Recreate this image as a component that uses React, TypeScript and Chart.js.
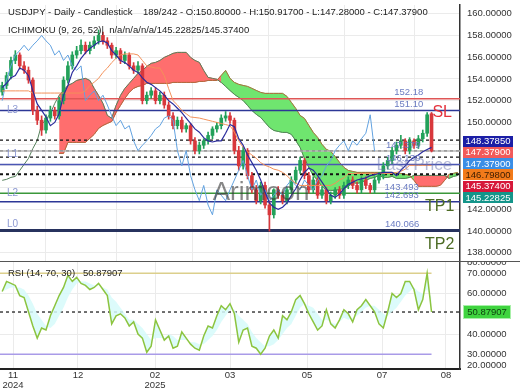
import React, { useEffect, useRef } from 'react';
import { Chart, registerables } from 'chart.js';
Chart.register(...registerables);

const FONT = "'Liberation Sans', Arial, sans-serif";
Chart.defaults.font.family = FONT;

const TITLE_LEFT = 'USDJPY - Daily - Candlestick';
const TITLE_RIGHT = '189/242 - O:150.80000 - H:150.91700 - L:147.28000 - C:147.37900';
const ICHI_TITLE = 'ICHIMOKU (9, 26, 52)|  n/a/n/a/n/a/145.22825/145.37400';
const RSI_TITLE = 'RSI (14, 70, 30)   50.87907';
const WATERMARK = 'Arimoon';

const opens = [
  152.8, 153.4, 154.3, 155.7, 156.2, 155.2, 154.8, 153.9, 151.1, 150.2,
  149.3, 150.4, 151.1, 150.6, 152.0, 153.9, 155.2, 156.2, 156.6, 157.1,
  156.6, 157.1, 157.5, 158.0, 157.5, 157.1, 156.2, 156.6, 155.7, 156.2,
  155.2, 154.8, 155.2, 152.0, 152.5, 152.9, 152.0, 152.5, 151.6, 150.6,
  149.7, 150.2, 149.4, 149.7, 148.3, 147.4, 147.9, 148.3, 148.8, 149.4,
  149.7, 150.4, 150.6, 150.2, 147.4, 146.0, 147.4, 145.1, 143.8, 142.8,
  144.2, 142.4, 141.5, 143.8, 143.3, 142.8, 143.8, 144.7, 145.6, 146.5,
  145.1, 143.8, 144.7, 143.3, 143.8, 142.8, 143.3, 143.8, 143.3, 144.2,
  144.7, 144.2, 143.8, 144.7, 144.2, 143.8, 144.7, 145.1, 146.0, 146.5,
  147.4, 147.9, 148.3, 147.4, 148.3, 147.9, 148.5, 149.0, 150.8
];
const highs = [
  153.7, 154.6, 156.0, 156.6, 156.4, 155.6, 155.1, 154.1, 151.5, 150.6,
  150.7, 151.5, 151.4, 152.3, 154.2, 155.6, 156.5, 157.0, 157.6, 157.4,
  157.4, 157.9, 158.5, 158.3, 157.8, 157.3, 156.9, 156.8, 156.5, 156.4,
  155.5, 155.6, 155.4, 152.8, 153.2, 153.2, 152.8, 152.8, 151.9, 150.9,
  150.5, 150.5, 149.9, 149.9, 148.6, 148.2, 148.5, 149.1, 149.6, 150.0,
  150.7, 151.0, 150.9, 150.4, 147.8, 147.7, 147.6, 145.4, 144.2, 144.5,
  144.5, 142.8, 143.9, 144.1, 143.6, 144.0, 145.0, 145.9, 146.8, 146.7,
  145.4, 145.0, 144.9, 144.1, 144.0, 143.6, 144.0, 144.1, 144.5, 145.0,
  145.0, 144.5, 145.0, 145.0, 144.4, 145.0, 145.4, 146.3, 146.8, 147.7,
  148.2, 148.8, 148.5, 148.6, 148.5, 148.8, 149.3, 150.9, 150.917
];
const lows = [
  152.5, 153.1, 154.0, 155.4, 154.9, 154.5, 153.6, 150.7, 149.8, 148.8,
  149.0, 150.1, 150.3, 150.3, 151.7, 153.6, 154.9, 155.9, 156.3, 156.3,
  156.3, 156.8, 157.2, 157.2, 156.8, 155.9, 155.9, 155.4, 155.4, 154.9,
  154.5, 154.5, 151.7, 151.7, 152.2, 151.7, 151.7, 151.3, 150.3, 149.4,
  149.4, 149.1, 149.1, 148.0, 147.1, 147.1, 147.6, 148.0, 148.5, 149.1,
  149.4, 150.1, 149.9, 147.1, 145.6, 145.7, 144.8, 143.5, 142.5, 142.5,
  142.1, 140.0, 141.2, 143.0, 142.5, 142.5, 143.5, 144.4, 145.3, 144.8,
  143.5, 143.5, 143.0, 143.0, 142.5, 142.5, 143.0, 143.0, 143.0, 143.9,
  143.9, 143.5, 143.5, 143.9, 143.5, 143.5, 144.4, 144.8, 145.7, 146.2,
  147.1, 147.6, 147.1, 147.1, 147.6, 147.6, 148.2, 148.7, 147.28
];
const closes = [
  153.4, 154.3, 155.7, 156.2, 155.2, 154.8, 153.9, 151.1, 150.2, 149.3,
  150.4, 151.1, 150.6, 152.0, 153.9, 155.2, 156.2, 156.6, 157.1, 156.6,
  157.1, 157.5, 158.0, 157.5, 157.1, 156.2, 156.6, 155.7, 156.2, 155.2,
  154.8, 155.2, 152.0, 152.5, 152.9, 152.0, 152.5, 151.6, 150.6, 149.7,
  150.2, 149.4, 149.7, 148.3, 147.4, 147.9, 148.3, 148.8, 149.4, 149.7,
  150.4, 150.6, 150.2, 147.4, 146.0, 147.4, 145.1, 143.8, 142.8, 144.2,
  142.4, 141.5, 143.8, 143.3, 142.8, 143.8, 144.7, 145.6, 146.5, 145.1,
  143.8, 144.7, 143.3, 143.8, 142.8, 143.3, 143.8, 143.3, 144.2, 144.7,
  144.2, 143.8, 144.7, 144.2, 143.8, 144.7, 145.1, 146.0, 146.5, 147.4,
  147.9, 148.3, 147.4, 148.3, 147.9, 148.5, 149.0, 150.7, 147.379
];
const tenkan = [
  153.2, 153.6, 154.1, 154.3, 155.0, 154.8, 154.3, 152.9, 151.7, 151.1,
  150.5, 149.7, 150.0, 150.8, 152.5, 153.4, 154.6, 155.2, 155.9, 156.4,
  156.8, 157.1, 157.4, 157.5, 157.3, 156.6, 156.2, 155.7, 155.5, 155.2,
  154.8, 154.6, 154.1, 153.7, 153.5, 153.2, 152.9, 152.5, 152.0, 151.7,
  151.3, 150.9, 150.4, 149.9, 149.4, 149.1, 148.6, 148.3, 148.2, 148.3,
  148.3, 149.0, 149.8, 149.6, 148.5, 147.9, 147.0, 146.3, 145.6, 144.7,
  143.6, 142.6, 142.2, 142.0, 142.2, 142.6, 143.3, 143.9, 144.7, 145.4,
  145.8, 145.6, 145.1, 144.5, 143.9, 143.3, 143.1, 143.4, 143.9, 144.3,
  144.5, 144.7, 144.8, 144.9, 145.1, 145.2, 145.3, 145.4, 145.4, 145.4,
  145.1, 145.6, 146.0, 146.5, 146.8, 147.0, 147.3, 147.5, 147.7
];
const kijun = [
  152.9, 152.9, 152.9, 152.9, 152.9, 152.9, 152.9, 152.7, 152.7, 152.7,
  152.7, 152.7, 152.7, 152.7, 152.7, 152.7, 152.7, 152.7, 152.7, 152.9,
  153.4, 153.7, 154.05, 154.6, 155.0, 155.5, 155.9, 156.2, 156.3, 156.3,
  156.3, 156.2, 155.7, 155.2, 155.1, 155.0, 155.0, 154.3, 153.1, 152.0,
  151.6, 151.1, 150.8, 150.5, 150.45, 150.4, 150.3, 150.2, 150.1, 150.0,
  149.9, 149.8, 149.7, 149.1, 148.3, 147.7, 147.3, 147.0, 146.7, 146.3,
  146.05, 145.9, 145.7, 145.6, 145.4, 145.1, 144.7, 144.4, 144.2, 144.2,
  144.2, 144.2, 144.2, 144.2, 144.2, 144.2, 144.4, 144.7, 144.9, 145.3,
  145.3, 145.3, 145.3, 145.3, 145.3, 145.3, 145.3, 145.3, 145.3, 145.3,
  145.4, 145.5, 145.7, 146.05, 146.05, 146.05, 146.05, 146.05, 146.05
];
// senkou span B line before the cloud fill starts (bars 0..12)
const earlySpanB = [144.67, 144.76, 144.94, 145.03, 145.58, 146.14, 146.69, 147.6, 148.34, 149.8, 150.27, 150.83, 151.75];
const CLOUD_START = 13;
const spanA = [
  147.15, 147.15, 148.16, 148.16, 148.16, 148.16, 148.16, 148.53, 148.90, 149.45,
  149.72, 149.91, 150.09, 150.92, 151.56, 152.21, 152.76, 153.13, 153.31, 153.40,
  153.59, 153.59, 153.59, 153.59, 153.59, 153.59, 153.68, 153.68, 153.68, 153.68,
  153.68, 153.68, 153.77, 153.77, 153.86, 153.86, 153.86, 154.32, 154.78, 154.05,
  153.68, 153.50, 153.40, 153.31, 153.13, 152.94, 152.76, 152.67, 152.67, 152.67,
  152.67, 152.67, 152.39, 151.84, 151.29, 150.64, 150.37, 149.72, 149.08, 148.62,
  147.98, 147.52, 147.33, 146.87, 146.32, 145.86, 145.58, 145.49, 145.40, 145.40,
  145.40, 145.40, 145.40, 145.40, 145.40, 145.40, 145.40, 145.31, 145.31, 145.22,
  145.12, 144.67, 144.12, 144.12, 144.12, 144.12, 144.12, 144.21, 144.67, 145.22,
  145.31, 145.40
];
const spanB = [
  152.48, 152.94, 153.40, 153.59, 153.86, 153.96, 154.05, 153.86, 153.13, 152.48,
  151.75, 150.64, 150.37, 151.56, 152.48, 153.13, 153.59, 154.05, 154.51, 154.78,
  155.15, 155.43, 155.52, 155.70, 155.98, 156.16, 156.35, 156.44, 156.44, 156.44,
  155.98, 155.70, 155.52, 154.78, 154.14, 154.05, 153.96, 153.68, 153.31, 152.94,
  152.58, 152.30, 152.02, 151.56, 151.10, 150.74, 150.46, 150.00, 149.54, 149.26,
  149.17, 149.08, 149.08, 148.90, 148.34, 147.70, 146.69, 145.86, 145.12, 144.67,
  144.12, 143.75, 143.75, 143.75, 143.84, 143.93, 144.12, 144.48, 144.39, 144.48,
  144.67, 144.85, 144.94, 145.12, 144.94, 144.94, 145.03, 144.85, 144.85, 144.85,
  144.94, 145.12, 145.12, 145.12, 145.12, 145.12, 145.12, 145.12, 145.12, 144.85,
  145.03, 145.12
];
// bar ranges where the cloud is bearish (red) or bullish (green)
const cloudParts = [
  { from: 13, to: 26, color: '#ff6e6e' },
  { from: 25, to: 50, color: '#ff6e6e' },
  { from: 49, to: 94, color: '#6fe56f' },
  { from: 93, to: 102, color: '#ff6e6e' },
  { from: 101, to: 104, color: '#6fe56f' },
];
const CHIKOU_SHIFT = 13;

const rsiValues = [
  61, 66, 65, 64, 59, 58, 51, 44, 38, 43,
  42, 49, 54, 59, 63, 69, 66, 68, 65, 64,
  62, 63, 65, 62, 59, 45, 49, 50, 48, 44,
  46, 40, 38, 31, 34, 47, 42, 37, 39, 33,
  34, 41, 38, 35, 33, 32, 39, 44, 43, 49,
  54, 52, 55, 50, 36, 42, 43, 34, 33, 30,
  33, 39, 42, 38, 49, 47, 51, 57, 59, 55,
  50, 46, 42, 44, 52, 45, 43, 47, 52, 50,
  46, 52, 54, 57, 54, 51, 45, 43, 51, 60,
  58, 60, 66, 66, 62, 52, 57, 70, 50.87907
];
const rsiSignal = [
  61, 62, 63, 63, 63, 62, 59, 55, 50, 47,
  44, 43, 45, 49, 53, 58, 62, 65, 66, 66,
  65, 64, 64, 63, 62, 58, 56, 53, 50, 47,
  47, 45, 43, 40, 37, 38, 38, 38, 40, 39,
  37, 37, 37, 36, 36, 35, 35, 37, 39, 42,
  46, 49, 52, 52, 49, 47, 45, 41, 38, 36,
  34, 34, 35, 37, 40, 43, 45, 49, 53, 55,
  54, 53, 50, 47, 47, 46, 45, 46, 48, 47,
  48, 49, 51, 53, 54, 54, 52, 50, 49, 51,
  53, 56, 59, 61, 63, 61, 60, 62, 58
];
const RSI_LAST = 50.87907;
const RSI_HIGH = 70;
const RSI_LOW = 30;

const levelValues = [152.18, 151.10, 148.3785, 147.379, 147.379, 146.798, 146.13, 145.22825, 143.493, 142.693, 140.066];
const levelStyles = [
  { color: '#df5656', width: 1.5, dash: [] as number[] },
  { color: '#2c3796', width: 1.5, dash: [] as number[] },
  { color: '#111111', width: 1.2, dash: [3, 3] },
  { color: '#b8b8b8', width: 1.5, dash: [] as number[] },
  { color: '#111111', width: 1.2, dash: [3, 3] },
  { color: '#111111', width: 1.2, dash: [3, 3] },
  { color: '#4b56b4', width: 1.5, dash: [] as number[] },
  { color: '#111111', width: 2, dash: [3, 3] },
  { color: '#3b983b', width: 1.5, dash: [] as number[] },
  { color: '#2c3796', width: 1.5, dash: [] as number[] },
  { color: '#27325e', width: 3, dash: [] as number[] },
];
const levelTexts = ['152.18', '151.10', '147.379', '146.130', '143.493', '142.693', '140.066'];
const levelTextValues = [152.18, 151.10, 147.379, 146.13, 143.493, 142.693, 140.066];
const levelTextIdx = [92.8, 92.8, 91.5, 91.5, 91.2, 91.2, 91.3];
const sideTexts = ['L3', 'L1', 'L2', 'L0'];
const sideTextValues = [151.10, 146.13, 143.493, 140.066];
const sideTextOffsets = [0, -10, 0, -6];

const boxValues = [148.3785, 147.379, 147.379, 146.798, 145.374, 145.22825];
const boxLabels = ['148.37850', '147.37900', '147.37900', '146.79800', '145.37400', '145.22825'];
const boxBg = ['#1b1ea6', '#f25a5a', '#3a8ee6', '#f27a1a', '#d6183a', '#14958a'];
const boxFg = ['#ffffff', '#ffffff', '#ffffff', '#3a1c00', '#ffffff', '#ffffff'];

const priceTicks = [160, 158, 156, 154, 152, 150, 148, 146, 144, 142, 140, 138];
const rsiTicks = [80, 70, 60, 40, 30, 20];
const monthTickIndex = [2.47, 17.3, 34.9, 52.0, 69.6, 86.7, 101.3];
const monthTickLabels: (string | string[])[] = [['11', '2024'], '12', ['02', '2025'], '03', '05', '07', '08'];

const X_MIN = -0.5;
const X_MAX = 104.5;
const P_MIN = 137.25;
const P_MAX = 160.8;
const R_MIN = 22.74;
const R_MAX = 76.07;

const GRID = '#ebebeb';

const noPad = (s: any) => {
  s.paddingTop = 0;
  s.paddingBottom = 0;
  s.paddingLeft = 0;
  s.paddingRight = 0;
};

export default function App() {
  const mainRef = useRef<HTMLCanvasElement>(null);
  const rsiRef = useRef<HTMLCanvasElement>(null);

  useEffect(() => {
    document.body.style.margin = '0';
    const idx = closes.map((_, i) => i);
    const candleColors = closes.map((c, i) => (c >= opens[i] ? '#23a15a' : '#d8383c'));

    const mainOverlay = {
      id: 'mainOverlay',
      afterDatasetsDraw(chart: any) {
        const { ctx, scales } = chart;
        const xs = scales.x, ys = scales.y;
        ctx.save();
        ctx.textBaseline = 'middle';
        ctx.font = `26px ${FONT}`;
        ctx.fillStyle = 'rgba(55,55,55,0.6)';
        ctx.textAlign = 'center';
        ctx.fillText(WATERMARK, xs.getPixelForValue(59.1), ys.getPixelForValue(143.5));
        ctx.font = `17px ${FONT}`;
        ctx.fillStyle = 'rgba(105,115,175,0.5)';
        ctx.textAlign = 'right';
        ctx.fillText('Last Price', xs.getPixelForValue(102.7), ys.getPixelForValue(146.08));
        ctx.font = `9.5px ${FONT}`;
        ctx.fillStyle = '#6b7cc2';
        ctx.textAlign = 'center';
        levelTexts.forEach((t, k) => {
          ctx.fillText(t, xs.getPixelForValue(levelTextIdx[k]), ys.getPixelForValue(levelTextValues[k]) - 6);
        });
        ctx.textAlign = 'left';
        ctx.fillStyle = '#8d99d2';
        ctx.font = `10px ${FONT}`;
        sideTexts.forEach((t, k) => {
          ctx.fillText(t, xs.getPixelForValue(1.1), ys.getPixelForValue(sideTextValues[k]) + sideTextOffsets[k]);
        });
        ctx.font = `16px ${FONT}`;
        ctx.fillStyle = '#e4323c';
        ctx.fillText('SL', xs.getPixelForValue(98.2), ys.getPixelForValue(150.86));
        ctx.fillStyle = '#4c6b23';
        ctx.fillText('TP1', xs.getPixelForValue(96.5), ys.getPixelForValue(142.22));
        ctx.fillText('TP2', xs.getPixelForValue(96.5), ys.getPixelForValue(138.72));
        ctx.restore();
      },
      afterDraw(chart: any) {
        const { ctx, scales, chartArea } = chart;
        const ys = scales.y;
        ctx.save();
        ctx.textBaseline = 'middle';
        ctx.font = `9.5px ${FONT}`;
        ctx.fillStyle = '#222';
        ctx.textAlign = 'left';
        ctx.fillText(TITLE_LEFT, 8, 12);
        ctx.fillText(TITLE_RIGHT, 143, 12);
        ctx.fillText(ICHI_TITLE, 8, 30);
        let prev = -1e9;
        const bx = chartArea.right + 3;
        boxValues.forEach((v, k) => {
          let cy = ys.getPixelForValue(v) + 1;
          if (cy < prev + 11.3) cy = prev + 11.3;
          prev = cy;
          ctx.fillStyle = boxBg[k];
          ctx.fillRect(bx, Math.round(cy - 5.5), 50, 11);
          ctx.fillStyle = boxFg[k];
          ctx.textAlign = 'center';
          ctx.fillText(boxLabels[k], bx + 25, cy + 0.5);
        });
        ctx.restore();
      },
    };

    const lineDs = (data: any[], color: string, width: number, order: number, extra: any = {}) => ({
      type: 'line', data, borderColor: color, borderWidth: width, pointRadius: 0, fill: false, tension: 0, order, ...extra,
    });

    const spanPoints = (arr: number[], from: number, to: number) => {
      const pts: { x: number; y: number }[] = [];
      for (let i = from; i <= to; i++) pts.push({ x: i, y: arr[i - CLOUD_START] });
      return pts;
    };
    const cloudDatasets: any[] = [];
    cloudParts.forEach((p) => {
      cloudDatasets.push(lineDs(spanPoints(spanA, p.from, p.to), p.color, 1, 10, { fill: '+1', backgroundColor: p.color }));
      cloudDatasets.push(lineDs(spanPoints(spanB, p.from, p.to), p.color, 1, 10));
    });
    const lastCloud = CLOUD_START + spanA.length - 1;
    const spanBLine = [
      ...earlySpanB.map((v, i) => ({ x: i, y: v })),
      ...spanPoints(spanB, CLOUD_START, lastCloud),
    ];
    // lagging span: close shifted back, only the part that lies inside the view
    const chikouPoints = closes.slice(CHIKOU_SHIFT).map((v, k) => ({ x: k, y: v }));

    const main = new Chart(mainRef.current as HTMLCanvasElement, {
      type: 'line',
      data: {
        datasets: [
          ...cloudDatasets,
          lineDs(spanPoints(spanA, CLOUD_START, lastCloud), '#ad6a3c', 1, 7),
          lineDs(spanBLine, '#55805a', 1, 7),
          lineDs(tenkan.map((v, i) => ({ x: i, y: v })), '#2a2b9c', 1.2, 0),
          lineDs(kijun.map((v, i) => ({ x: i, y: v })), '#f3915a', 1, 0),
          lineDs(chikouPoints, '#62a2e0', 1, 0),
          {
            type: 'bar', data: idx.map((i) => ({ x: i, y: [opens[i], closes[i]] })),
            backgroundColor: candleColors, barThickness: 3, grouped: false, order: 2,
          },
          {
            type: 'bar', data: idx.map((i) => ({ x: i, y: [lows[i], highs[i]] })),
            backgroundColor: candleColors, barThickness: 1, grouped: false, order: 3,
          },
          ...levelValues.map((v, k) => lineDs([{ x: X_MIN, y: v }, { x: X_MAX, y: v }], levelStyles[k].color, levelStyles[k].width, 5, { borderDash: levelStyles[k].dash })),
        ] as any,
      },
      options: {
        responsive: false,
        animation: false,
        layout: { padding: { top: 5, left: 0, right: 0, bottom: 0 } },
        plugins: { legend: { display: false }, tooltip: { enabled: false } },
        scales: {
          x: {
            type: 'linear', min: X_MIN, max: X_MAX, offset: false,
            afterBuildTicks: (s: any) => { s.ticks = monthTickIndex.map((v) => ({ value: v })); },
            ticks: { display: false },
            grid: { color: GRID, drawTicks: false },
            border: { display: false },
            afterFit: (s: any) => { s.height = 0; noPad(s); },
          },
          y: {
            position: 'right', min: P_MIN, max: P_MAX,
            afterBuildTicks: (s: any) => { s.ticks = priceTicks.map((v) => ({ value: v })); },
            ticks: { callback: (v: any) => Number(v).toFixed(5), color: '#333', font: { size: 9.5 }, padding: 7, autoSkip: false },
            grid: { color: GRID, drawTicks: false },
            border: { display: true, color: '#333', width: 1.5 },
            afterFit: (s: any) => { s.width = 60; noPad(s); },
          },
        },
      } as any,
      plugins: [mainOverlay],
    });

    const rsiOverlay = {
      id: 'rsiOverlay',
      afterDraw(chart: any) {
        const { ctx, scales, chartArea } = chart;
        const ys = scales.y;
        ctx.save();
        ctx.strokeStyle = '#555';
        ctx.lineWidth = 1;
        ctx.beginPath();
        ctx.moveTo(0, 0.5);
        ctx.lineTo(520, 0.5);
        ctx.stroke();
        ctx.textBaseline = 'middle';
        ctx.font = `9.5px ${FONT}`;
        ctx.fillStyle = '#222';
        ctx.textAlign = 'left';
        ctx.fillText(RSI_TITLE, 8, 12);
        const cy = ys.getPixelForValue(RSI_LAST);
        const bx = chartArea.right + 4;
        ctx.fillStyle = '#a8f0a8';
        ctx.fillRect(bx - 1, Math.round(cy - 7), 48, 14);
        ctx.fillStyle = '#3fd43f';
        ctx.fillRect(bx, Math.round(cy - 6), 46, 12);
        ctx.fillStyle = '#0d3d0d';
        ctx.textAlign = 'center';
        ctx.fillText(RSI_LAST.toFixed(5), bx + 23, cy + 0.5);
        ctx.restore();
      },
    };

    const lastIdx = closes.length - 1;
    const rsi = new Chart(rsiRef.current as HTMLCanvasElement, {
      type: 'line',
      data: {
        datasets: [
          lineDs(rsiValues.map((v, i) => ({ x: i, y: v })), '#8cc43f', 1.5, 0, {
            fill: '+1', backgroundColor: 'rgba(214,250,250,0.85)',
          }),
          lineDs(rsiSignal.map((v, i) => ({ x: i, y: v })), 'rgba(0,0,0,0)', 0, 1),
          lineDs([{ x: X_MIN, y: RSI_HIGH }, { x: lastIdx, y: RSI_HIGH }], '#dccf8c', 1.5, 2),
          lineDs([{ x: X_MIN, y: RSI_LOW }, { x: lastIdx, y: RSI_LOW }], '#a99be8', 1.5, 2),
          lineDs([{ x: X_MIN, y: RSI_LAST }, { x: X_MAX, y: RSI_LAST }], '#111', 1.2, 2, { borderDash: [3, 3] }),
        ] as any,
      },
      options: {
        responsive: false,
        animation: false,
        layout: { padding: 0 },
        plugins: { legend: { display: false }, tooltip: { enabled: false } },
        scales: {
          x: {
            type: 'linear', min: X_MIN, max: X_MAX, offset: false,
            afterBuildTicks: (s: any) => { s.ticks = monthTickIndex.map((v) => ({ value: v })); },
            ticks: {
              callback: (_v: any, i: number) => monthTickLabels[i],
              color: '#333', font: { size: 9.5, lineHeight: 1.0 }, padding: 2, maxRotation: 0, autoSkip: false,
            },
            grid: { color: GRID, drawTicks: false },
            border: { display: true, color: '#222', width: 2 },
            afterFit: (s: any) => { s.height = 21; noPad(s); },
          },
          y: {
            position: 'right', min: R_MIN, max: R_MAX,
            afterBuildTicks: (s: any) => {
              s.ticks = rsiTicks.map((v) => ({ value: v > R_MAX ? R_MAX - 0.65 : v < R_MIN ? R_MIN + 2 : v }));
            },
            ticks: { callback: (_v: any, i: number) => rsiTicks[i].toFixed(5), color: '#333', font: { size: 9.5 }, padding: 7, autoSkip: false },
            grid: {
              color: (c: any) => (c.tick && (c.tick.value === 60 || c.tick.value === 40) ? GRID : 'rgba(0,0,0,0)'),
              drawTicks: false,
            },
            border: { display: true, color: '#333', width: 1.5 },
            afterFit: (s: any) => { s.width = 60; noPad(s); },
          },
        },
      } as any,
      plugins: [rsiOverlay],
    });

    return () => {
      main.destroy();
      rsi.destroy();
    };
  }, []);

  return (
    <div style={{ width: 520, height: 390, background: '#fff' }}>
      <canvas ref={mainRef} width={520} height={261} style={{ display: 'block' }} />
      <canvas ref={rsiRef} width={520} height={129} style={{ display: 'block' }} />
    </div>
  );
}
